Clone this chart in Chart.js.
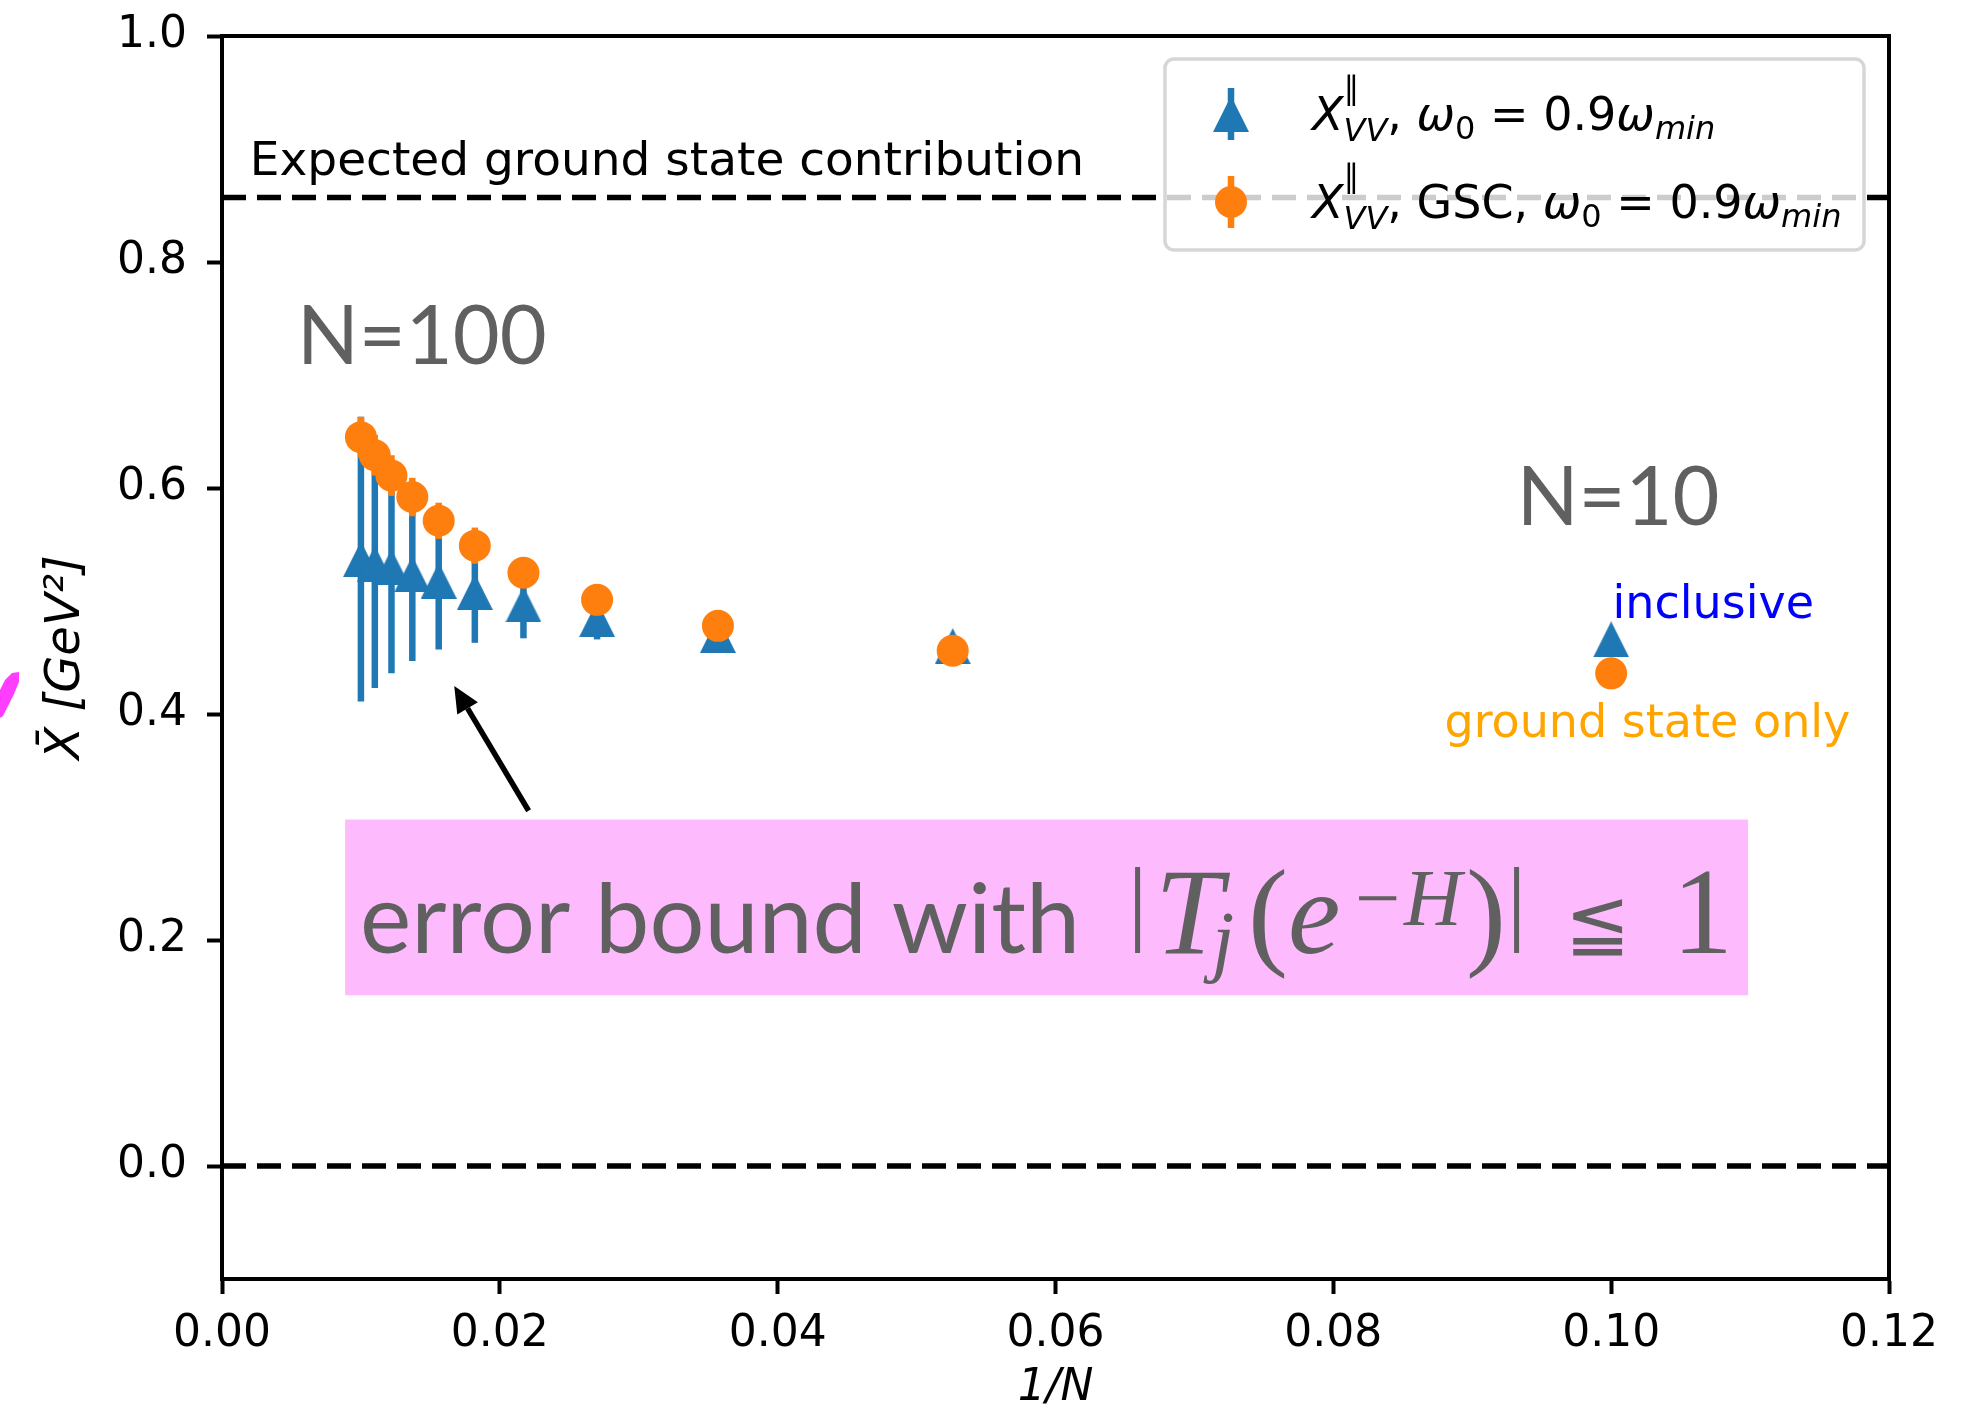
<!DOCTYPE html>
<html>
<head>
<meta charset="utf-8">
<script src="https://cdn.jsdelivr.net/npm/chart.js@4.4.0/dist/chart.umd.min.js"></script>
<style>
  html, body { margin: 0; padding: 0; background: #fff; }
  #wrap { width: 1983px; height: 1415px; }
</style>
</head>
<body>
<div id="wrap"><canvas id="chart" width="1983" height="1415"></canvas></div>
<script>
// values, 1/N for N = 100, 91, 82, ... 19, 10
let invN = [0.0100, 0.0110, 0.0122, 0.0137, 0.0156, 0.0182, 0.0217, 0.0270, 0.0357, 0.0526, 0.1000];
let inclusive = [0.537, 0.533, 0.530, 0.524, 0.518, 0.508, 0.497, 0.484, 0.470, 0.460, 0.466];
let inclusiveErr = [0.126, 0.110, 0.094, 0.077, 0.061, 0.045, 0.030, 0.018, 0.006, 0.004, 0.002];
let groundOnly = [0.645, 0.629, 0.611, 0.592, 0.571, 0.549, 0.525, 0.501, 0.478, 0.456, 0.436];
let groundOnlyErr = [0.018, 0.018, 0.018, 0.017, 0.016, 0.016, 0.013, 0.011, 0.008, 0.006, 0.004];
let expectedGround = 0.857;
let zeroLine = 0;
let xRange = [0, 0.12];
let yRange = [-0.1, 1.0];
let xTicks = [0, 0.02, 0.04, 0.06, 0.08, 0.10, 0.12];
let yTicks = [0, 0.2, 0.4, 0.6, 0.8, 1.0];

// general variables
let blue = "#1f77b4";
let orange = "#ff7f0e";
let grey = "#606060";
let sans = "DejaVu Sans";
let font = { size: 44, family: sans };

// matplotlib style "^" marker (width = height, centred on mid height)
let tri = document.createElement("canvas");
tri.width = 36;
tri.height = 36;
let tc = tri.getContext("2d");
tc.fillStyle = blue;
tc.beginPath();
tc.moveTo(18, 0);
tc.lineTo(36, 36);
tc.lineTo(0, 36);
tc.closePath();
tc.fill();

function points(ys) {
  return invN.map((x, i) => ({ x: x, y: ys[i] }));
}

function hline(v) {
  return [{ x: xRange[0], y: v }, { x: xRange[1], y: v }];
}

// draws a run of text pieces; a piece may be a stack (sup + sub at same x)
function mathRun(ctx, x, y, parts, color) {
  ctx.fillStyle = color;
  ctx.textBaseline = "alphabetic";
  ctx.textAlign = "left";
  parts.forEach((p) => {
    if (p.stack) {
      let w = 0;
      p.stack.forEach((s) => {
        ctx.font = s.font;
        ctx.fillText(s.t, x, y + (s.dy || 0));
        w = Math.max(w, ctx.measureText(s.t).width);
      });
      x += w;
    } else {
      ctx.font = p.font;
      ctx.fillText(p.t, x + (p.dx || 0), y + (p.dy || 0));
      x += ctx.measureText(p.t).width + (p.dx || 0);
    }
  });
}

// ! error bars, drawn just under each dataset's markers
const errorBars = {
  id: "errorBars",
  beforeDatasetDraw(chart, args) {
    let ds = chart.data.datasets[args.index];
    if (!ds.yErr) return;
    let xs = chart.scales.x, ys = chart.scales.y;
    let ctx = chart.ctx;
    ctx.save();
    ctx.strokeStyle = ds.backgroundColor;
    ctx.lineWidth = 6.5;
    ds.data.forEach((p, i) => {
      let px = xs.getPixelForValue(p.x);
      ctx.beginPath();
      ctx.moveTo(px, ys.getPixelForValue(p.y - ds.yErr[i]));
      ctx.lineTo(px, ys.getPixelForValue(p.y + ds.yErr[i]));
      ctx.stroke();
    });
    ctx.restore();
  },
};

// ! annotations, frame and legend
const decorations = {
  id: "decorations",
  afterDatasetsDraw(chart) {
    let ctx = chart.ctx;
    let xs = chart.scales.x, ys = chart.scales.y;
    let a = chart.chartArea;
    let X = (v) => xs.getPixelForValue(v);
    let Y = (v) => ys.getPixelForValue(v);
    ctx.save();

    // frame on all four sides
    ctx.strokeStyle = "#000";
    ctx.lineWidth = 4;
    ctx.strokeRect(a.left, a.top, a.right - a.left, a.bottom - a.top);

    // texts in data coordinates
    ctx.textBaseline = "alphabetic";
    ctx.textAlign = "left";
    ctx.fillStyle = "#000";
    ctx.font = "47px " + sans;
    ctx.fillText("Expected ground state contribution", X(0.0020), Y(0.8774));

    ctx.fillStyle = grey;
    ctx.font = "81px Lato";
    ctx.fillText("N=100", X(0.0054), Y(0.7097));
    ctx.fillText("N=10", X(0.0932), Y(0.567));

    ctx.font = "46px " + sans;
    ctx.fillStyle = "#0000ff";
    ctx.fillText("inclusive", X(0.1001), Y(0.485));
    ctx.fillStyle = "#ffa500";
    ctx.fillText("ground state only", X(0.0880), Y(0.380));

    // pink box with the error bound text
    let bx0 = X(0.00886), bx1 = X(0.10986);
    let by0 = Y(0.3066), by1 = Y(0.1511);
    ctx.fillStyle = "#fdbafd";
    ctx.fillRect(bx0, by0, bx1 - bx0, by1 - by0);

    let tx = X(0.00994), ty = Y(0.1885);
    ctx.fillStyle = grey;
    ctx.font = "97px Lato";
    ctx.fillText("error bound with", tx, ty, 730);
    let serif = "Liberation Serif";
    ctx.fillRect(tx + 775, ty - 86, 5, 86);
    ctx.font = "italic 122px " + serif;
    ctx.fillText("T", tx + 795, ty);
    ctx.font = "italic 80px " + serif;
    ctx.fillText("j", tx + 852, ty + 14);
    ctx.font = "120px " + serif;
    ctx.fillText("(", tx + 888, ty);
    ctx.font = "italic 118px " + serif;
    ctx.fillText("e", tx + 928, ty);
    ctx.font = "italic 80px " + serif;
    ctx.fillText("\u2212H", tx + 990, ty - 28);
    ctx.font = "120px " + serif;
    ctx.fillText(")", tx + 1106, ty);
    ctx.fillRect(tx + 1154, ty - 86, 5, 86);
    ctx.font = "78px " + sans;
    ctx.fillText("\u2266", tx + 1205, ty - 4);
    ctx.font = "122px " + serif;
    ctx.fillText("1", tx + 1312, ty);

    // arrow pointing at the error bars
    let x0 = X(0.02207), y0 = Y(0.3144);
    let x1 = X(0.01672), y1 = Y(0.4248);
    let ang = Math.atan2(y1 - y0, x1 - x0);
    let head = 26, half = 12;
    let hx = x1 - Math.cos(ang) * head, hy = y1 - Math.sin(ang) * head;
    ctx.strokeStyle = "#000";
    ctx.fillStyle = "#000";
    ctx.lineWidth = 5.5;
    ctx.beginPath();
    ctx.moveTo(x0, y0);
    ctx.lineTo(hx, hy);
    ctx.stroke();
    ctx.beginPath();
    ctx.moveTo(x1, y1);
    ctx.lineTo(hx + Math.sin(ang) * half, hy - Math.cos(ang) * half);
    ctx.lineTo(hx - Math.sin(ang) * half, hy + Math.cos(ang) * half);
    ctx.closePath();
    ctx.fill();

    // legend box (semi transparent, like matplotlib's framealpha)
    let lx = a.right - 724, ly = a.top + 23, lw = 699, lh = 191;
    ctx.beginPath();
    ctx.roundRect(lx, ly, lw, lh, 9);
    ctx.fillStyle = "rgba(255,255,255,0.8)";
    ctx.fill();
    ctx.strokeStyle = "rgba(204,204,204,0.8)";
    ctx.lineWidth = 3.5;
    ctx.stroke();

    let mx = lx + 66, r1 = ly + 55, r2 = ly + 143;
    ctx.lineWidth = 6.5;
    ctx.strokeStyle = blue;
    ctx.beginPath();
    ctx.moveTo(mx, r1 - 26);
    ctx.lineTo(mx, r1 + 26);
    ctx.stroke();
    ctx.drawImage(tri, mx - 18, r1 - 18);
    ctx.strokeStyle = orange;
    ctx.beginPath();
    ctx.moveTo(mx, r2 - 26);
    ctx.lineTo(mx, r2 + 26);
    ctx.stroke();
    ctx.fillStyle = orange;
    ctx.beginPath();
    ctx.arc(mx, r2, 16, 0, Math.PI * 2);
    ctx.fill();

    let big = "46px " + sans, bigI = "italic 46px " + sans;
    let small = "32px " + sans, smallI = "italic 32px " + sans;
    let xvv = [
      { t: "X", font: bigI },
      { stack: [{ t: "\u2225", font: small, dy: -31 }, { t: "VV", font: smallI, dy: 11 }] },
      { t: ", ", font: big },
    ];
    let omega = [
      { t: "\u03c9", font: bigI },
      { t: "0", font: small, dy: 9 },
      { t: " = 0.9", font: big },
      { t: "\u03c9", font: bigI },
      { t: "min", font: smallI, dy: 9 },
    ];
    let tx0 = lx + 147;
    mathRun(ctx, tx0, r1 + 16, xvv.concat(omega), "#000");
    mathRun(ctx, tx0, r2 + 16, xvv.concat([{ t: "GSC, ", font: big }], omega), "#000");

    ctx.restore();
  },
  afterDraw(chart) {
    // stray magenta pen blot at the left edge of the picture
    let ctx = chart.ctx;
    ctx.save();
    ctx.fillStyle = "#ff3cff";
    ctx.beginPath();
    ctx.moveTo(0, 718);
    ctx.lineTo(0, 690);
    ctx.lineTo(5, 680);
    ctx.lineTo(12, 673);
    ctx.lineTo(19, 672);
    ctx.lineTo(19, 682);
    ctx.lineTo(14, 694);
    ctx.lineTo(8, 706);
    ctx.lineTo(3, 716);
    ctx.closePath();
    ctx.fill();
    ctx.restore();
  },
};

// ! the chart
let chartEl = document.querySelector("#chart");
new Chart(chartEl, {
  type: "scatter",
  plugins: [errorBars, decorations],
  options: {
    responsive: false,
    animation: false,
    events: [],
    layout: {
      padding: { left: 0, right: 94, top: 36, bottom: 0 },
    },
    plugins: {
      legend: { display: false },
      tooltip: { enabled: false },
    },
    scales: {
      x: {
        type: "linear",
        min: xRange[0],
        max: xRange[1],
        afterBuildTicks: (scale) => {
          scale.ticks = xTicks.map((v) => ({ value: v }));
        },
        afterFit: (scale) => {
          scale.height = 136;
          scale.paddingLeft = 0;
          scale.paddingRight = 0;
        },
        grid: {
          drawOnChartArea: false,
          drawTicks: true,
          tickLength: 15,
          tickWidth: 4,
          tickColor: "#000",
        },
        border: { display: true, color: "#000", width: 4 },
        ticks: {
          font: font,
          color: "#000",
          padding: 14,
          maxRotation: 0,
          callback: (v) => v.toFixed(2),
        },
        title: {
          display: true,
          text: "1/N",
          color: "#000",
          font: { size: 44, family: sans, style: "italic" },
          padding: { top: 0, bottom: 0 },
        },
      },
      y: {
        type: "linear",
        min: yRange[0],
        max: yRange[1],
        afterBuildTicks: (scale) => {
          scale.ticks = yTicks.map((v) => ({ value: v }));
        },
        afterFit: (scale) => {
          scale.width = 222;
          scale.paddingTop = 0;
          scale.paddingBottom = 0;
        },
        grid: {
          drawOnChartArea: false,
          drawTicks: true,
          tickLength: 15,
          tickWidth: 4,
          tickColor: "#000",
        },
        border: { display: true, color: "#000", width: 4 },
        ticks: {
          font: font,
          color: "#000",
          padding: 20,
          callback: (v) => v.toFixed(1),
        },
        title: {
          display: true,
          text: "X\u0304 [GeV\u00b2]",
          color: "#000",
          font: { size: 48, family: sans, style: "italic" },
          padding: { top: 38, bottom: 0 },
        },
      },
    },
  },
  data: {
    datasets: [
      {
        label: "X_VV, GSC, w0 = 0.9 wmin",
        data: points(groundOnly),
        yErr: groundOnlyErr,
        pointStyle: "circle",
        pointRadius: 16,
        backgroundColor: orange,
        borderColor: orange,
        borderWidth: 0,
        order: 1,
      },
      {
        label: "X_VV, w0 = 0.9 wmin",
        data: points(inclusive),
        yErr: inclusiveErr,
        pointStyle: tri,
        pointRadius: 18,
        backgroundColor: blue,
        borderColor: blue,
        borderWidth: 0,
        order: 2,
      },
      {
        type: "line",
        label: "expected",
        data: hline(expectedGround),
        borderColor: "#000",
        borderWidth: 5.5,
        borderDash: [24, 11],
        pointRadius: 0,
        order: 3,
      },
      {
        type: "line",
        label: "zero",
        data: hline(zeroLine),
        borderColor: "#000",
        borderWidth: 5.5,
        borderDash: [24, 11],
        pointRadius: 0,
        order: 3,
      },
    ],
  },
});
</script>
</body>
</html>
